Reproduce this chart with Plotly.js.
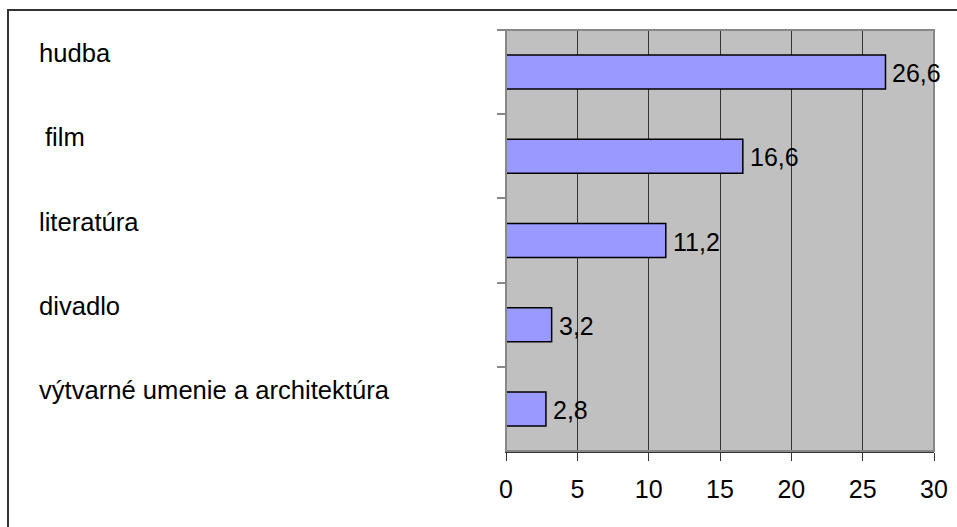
<!DOCTYPE html>
<html>
<head>
<meta charset="utf-8">
<script src="https://cdn.plot.ly/plotly-3.0.1.min.js"></script>
<style>html,body{margin:0;padding:0;background:#fff;}#chart{width:957px;height:527px;}</style>
</head>
<body>
<div id="chart"></div>
<script>
var categories = ["hudba", "film", "literatúra", "divadlo", "výtvarné umenie a architektúra"];
var values = [26.6, 16.6, 11.2, 3.2, 2.8];
var valueLabels = ["26,6", "16,6", "11,2", "3,2", "2,8"];
var tickValues = [0, 5, 10, 15, 20, 25, 30];
var tickLabels = ["0", "5", "10", "15", "20", "25", "30"];

var W = 957, H = 527;
var mL = 506, mR = 23, mT = 30, mB = 76;
var plotW = W - mL - mR;
var plotH = H - mT - mB;
var FONT = "Liberation Sans, Arial, sans-serif";
var fs = 25;
var catFs = 25.6;

var trace = {
  type: "bar",
  orientation: "h",
  y: categories,
  x: values,
  marker: {color: "#9999ff", line: {color: "#000", width: 1.5}},
  hoverinfo: "none"
};

var annotations = categories.map(function(c, i){
  return {
    xref: "paper", yref: "y",
    x: (37 - mL) / plotW, y: c,
    xanchor: "left", yanchor: "middle",
    xshift: (i === 1 ? 6 : 0),
    yshift: 19,
    text: c, showarrow: false,
    font: {family: FONT, size: catFs, color: "#000"}
  };
});
values.forEach(function(v, i){
  annotations.push({
    xref: "x", yref: "y",
    x: v, y: categories[i],
    xanchor: "left", yanchor: "middle",
    xshift: 5, yshift: -1,
    text: valueLabels[i], showarrow: false,
    font: {family: FONT, size: fs, color: "#000"}
  });
});

var layout = {
  width: W, height: H,
  margin: {l: mL, r: mR, t: mT, b: mB, pad: 0},
  paper_bgcolor: "#fff",
  plot_bgcolor: "#c0c0c0",
  showlegend: false,
  bargap: 0.596,
  font: {family: FONT, size: fs, color: "#000"},
  xaxis: {
    range: [0, 30],
    tickvals: tickValues, ticktext: tickLabels,
    showgrid: true, gridcolor: "#333", gridwidth: 1,
    zeroline: false,
    showline: true, linecolor: "#333", linewidth: 1.5,
    ticks: "outside", ticklen: 8, tickcolor: "#333", tickwidth: 1,
    ticklabelstandoff: 7,
    tickfont: {family: FONT, size: fs, color: "#000"},
    mirror: false, fixedrange: true
  },
  yaxis: {
    type: "category",
    categoryorder: "array", categoryarray: categories,
    autorange: "reversed",
    showticklabels: false,
    showgrid: false, zeroline: false,
    showline: true, linecolor: "#555", linewidth: 1.5,
    ticks: "outside", ticklen: 8, tickcolor: "#888", tickwidth: 2,
    tickson: "boundaries",
    fixedrange: true
  },
  annotations: annotations,
  shapes: [
    {type: "rect", xref: "paper", yref: "paper", layer: "above",
     x0: 0, x1: 1, y0: 0, y1: 1, line: {color: "#888", width: 2}, fillcolor: "rgba(0,0,0,0)"},
    {type: "rect", xref: "paper", yref: "paper", layer: "above",
     x0: (8 - mL) / plotW, x1: (W + 10 - mL) / plotW,
     y0: 1 - (H + 10 - mT) / plotH, y1: 1 + (mT - 10) / plotH,
     line: {color: "#333", width: 2}, fillcolor: "rgba(0,0,0,0)"}
  ]
};

Plotly.newPlot("chart", [trace], layout, {displayModeBar: false, staticPlot: true});
</script>
</body>
</html>
